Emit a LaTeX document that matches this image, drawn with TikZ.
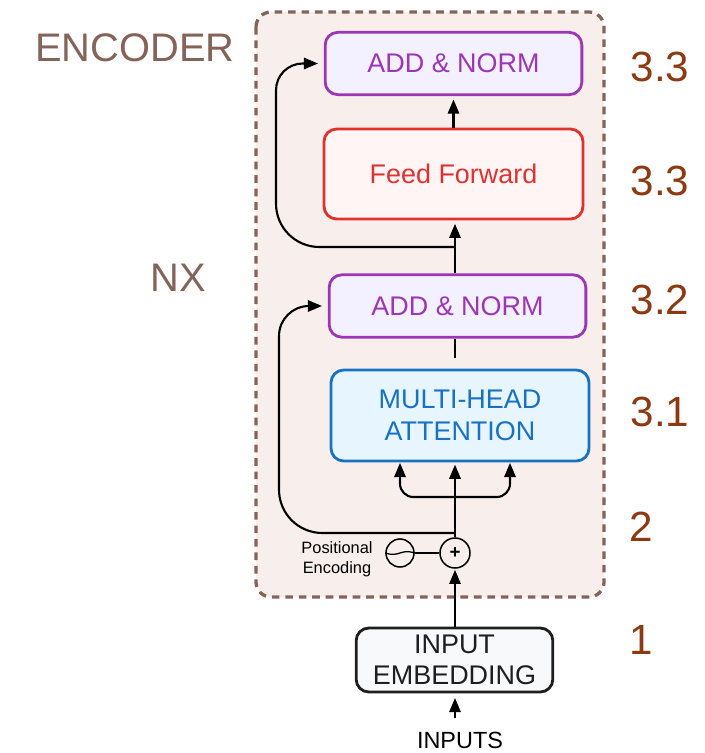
\documentclass[tikz,border=0pt]{standalone}
\usepackage{fontspec}
\setmainfont{Liberation Sans}
\usetikzlibrary{arrows}

\definecolor{encbrown}{HTML}{846358}
\definecolor{encfill}{HTML}{F8EFEC}
\definecolor{numbrown}{HTML}{8B3A12}
\definecolor{normline}{HTML}{9C36B5}
\definecolor{normfill}{HTML}{F3F0FF}
\definecolor{ffline}{HTML}{E03131}
\definecolor{fffill}{HTML}{FFF5F5}
\definecolor{attline}{HTML}{1971C2}
\definecolor{attfill}{HTML}{E7F5FF}
\definecolor{embline}{HTML}{1E1E1E}
\definecolor{embfill}{HTML}{F8F9FA}

\begin{document}
\begin{tikzpicture}[x=0.03cm,y=-0.03cm,>=triangle 45,
  block node/.style={rectangle,rounded corners=0.38cm,line width=2.4pt,align=center,font=\fontsize{23}{27}\selectfont},
  norm node/.style={block node,draw=normline,fill=normfill,text=normline,minimum width=7.7cm,minimum height=1.87cm},
  ff node/.style={block node,draw=ffline,fill=fffill,text=ffline,minimum width=7.77cm,minimum height=2.7cm},
  attn node/.style={block node,draw=attline,fill=attfill,text=attline,minimum width=7.74cm,minimum height=2.73cm},
  embed node/.style={block node,draw=embline,fill=embfill,text=embline,minimum width=5.9cm,minimum height=1.92cm},
  op node/.style={circle,draw,line width=1.3pt,inner sep=0pt},
  num node/.style={text=numbrown,font=\fontsize{36}{40}\selectfont},
  title node/.style={text=encbrown,font=\fontsize{34}{38}\selectfont},
  link/.style={line width=1.8pt}]

  \useasboundingbox (0,0) rectangle (705,753);
  \draw[encbrown,fill=encfill,line width=2.8pt,dash pattern=on 6.5pt off 5pt,rounded corners=0.45cm] (256,12) rectangle (604,597);

  \node[title node] (enc) at (135,48) {ENCODER};
  \node[title node] (nx) at (178,278) {NX};

  \node[norm node] (an2) at (453.5,63.5) {ADD \& NORM};
  \node[ff node] (ff) at (453.5,174) {Feed Forward};
  \node[norm node] (an1) at (457.5,306) {ADD \& NORM};
  \node[attn node] (attn) at (460,415.5) {MULTI-HEAD\\ATTENTION};
  \node[op node,minimum size=0.9cm,font=\bfseries\fontsize{16}{16}\selectfont] (plus) at (455,553) {+};
  \node[op node,minimum size=0.84cm] (pe) at (400,553) {};
  \node[align=center,font=\fontsize{14}{17}\selectfont] (petext) at (337,559) {Positional\\Encoding};
  \node[embed node] (emb) at (454.5,660) {INPUT\\EMBEDDING};
  \node[font=\fontsize{20}{24}\selectfont] (inp) at (460,740) {INPUTS};

  \node[num node] (n33a) at (660,67) {3.3};
  \node[num node] (n33b) at (660,181) {3.3};
  \node[num node] (n32) at (660,300) {3.2};
  \node[num node] (n31) at (660,412) {3.1};
  \node[num node] (n2) at (641,527) {2};
  \node[num node] (n1) at (641,640) {1};

\begin{scope}[link]
  \coordinate (split) at (455,497);
  \coordinate (res1) at (455,533);
  \coordinate (res2) at (455,247);
  \coordinate (qin) at (400,463);
  \coordinate (kin) at (510,463);
  \coordinate (lane1) at (279,420);
  \coordinate (lane2) at (276,150);

  \draw[->,shorten <=8pt,shorten >=4pt] (inp.north -| plus) to (emb.south -| plus);
  \draw[->,shorten >=1pt] (emb.north -| plus) to (plus);
  \draw[->,shorten >=2pt] (plus) to (attn.south -| plus);
  \draw[->,rounded corners=0.4cm] (split) -| (qin);
  \draw[->,rounded corners=0.4cm] (split) -| (kin);
  \draw[->,shorten >=5pt] (res1) [rounded corners=1.3cm] -| (lane1) [rounded corners=0.9cm] |- (an1.west);
  \draw[shorten <=0.33cm] (attn.north -| plus) to (an1.south -| plus);
  \draw[->,shorten >=3pt] (an1.north -| plus) to (ff.south -| plus);
  \draw[->,shorten >=5pt] (res2) [rounded corners=1.3cm] -| (lane2) [rounded corners=0.8cm] |- (an2.west);
  \draw[->,shorten >=3pt] (ff) to (an2);
  \draw[line width=1.1pt] (pe) -- (plus);
  \draw[line width=1.1pt] (pe.west) .. controls ([yshift=-4pt]pe.center) and ([yshift=4pt]pe.center) .. (pe.east);
\end{scope}
\end{tikzpicture}
\end{document}
